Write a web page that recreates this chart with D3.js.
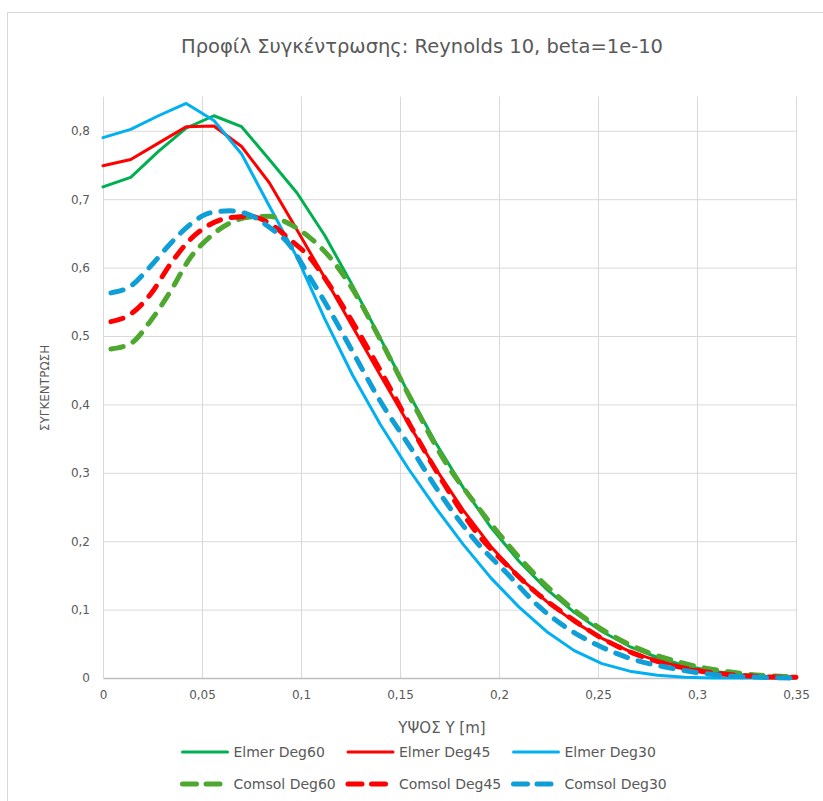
<!DOCTYPE html>
<html><head><meta charset="utf-8">
<script src="https://cdn.jsdelivr.net/npm/d3@7"></script>
<style>
html,body{margin:0;padding:0;background:#fff;}
svg{display:block;}
text{font-family:"DejaVu Sans",sans-serif;fill:#595959;}
</style></head><body><svg id="chart" width="823" height="801"></svg>
<script>
// Concentration profiles across the channel height, Re = 10, beta = 1e-10

// Elmer solutions (mesh nodes along y)
const elmerY = [0, 0.014, 0.028, 0.042, 0.056, 0.070, 0.084, 0.098, 0.112, 0.126, 0.140, 0.154, 0.168,
                0.182, 0.196, 0.210, 0.224, 0.238, 0.252, 0.266, 0.280, 0.294, 0.308, 0.322, 0.336, 0.350];
const elmerDeg60 = [0.718, 0.732, 0.770, 0.804, 0.822, 0.806, 0.758, 0.709, 0.647, 0.574, 0.497, 0.418, 0.344,
                    0.278, 0.220, 0.171, 0.130, 0.096, 0.068, 0.046, 0.030, 0.018, 0.010, 0.005, 0.002, 0.001];
const elmerDeg45 = [0.749, 0.758, 0.782, 0.806, 0.807, 0.777, 0.724, 0.655, 0.585, 0.514, 0.443, 0.373, 0.306,
                    0.245, 0.192, 0.148, 0.112, 0.082, 0.058, 0.039, 0.025, 0.015, 0.008, 0.004, 0.002, 0.001];
const elmerDeg30 = [0.790, 0.802, 0.822, 0.840, 0.815, 0.766, 0.690, 0.615, 0.525, 0.443, 0.371, 0.307, 0.249,
                    0.195, 0.146, 0.104, 0.068, 0.040, 0.021, 0.010, 0.004, 0.001, 0, 0, 0, 0];

// COMSOL solutions (cut line samples)
const comsolY = [0.004, 0.014, 0.024, 0.034, 0.044, 0.054, 0.064, 0.074, 0.084, 0.094, 0.104, 0.114, 0.124,
                 0.140, 0.156, 0.172, 0.188, 0.204, 0.220, 0.236, 0.252, 0.268, 0.284, 0.300, 0.316, 0.332, 0.350];
const comsolDeg60 = [0.481, 0.489, 0.522, 0.565, 0.614, 0.645, 0.665, 0.674, 0.675, 0.664, 0.645, 0.617, 0.578,
                     0.495, 0.405, 0.320, 0.255, 0.197, 0.146, 0.104, 0.071, 0.046, 0.029, 0.017, 0.009, 0.004, 0.002];
const comsolDeg45 = [0.521, 0.532, 0.561, 0.605, 0.641, 0.663, 0.673, 0.675, 0.665, 0.642, 0.616, 0.576, 0.530,
                     0.450, 0.365, 0.285, 0.215, 0.165, 0.122, 0.088, 0.058, 0.036, 0.021, 0.011, 0.005, 0.002, 0.001];
const comsolDeg30 = [0.563, 0.573, 0.602, 0.635, 0.663, 0.680, 0.683, 0.677, 0.659, 0.634, 0.588, 0.540, 0.488,
                     0.405, 0.334, 0.262, 0.201, 0.153, 0.105, 0.070, 0.045, 0.027, 0.016, 0.008, 0.003, 0.001, 0];

const xTicks = [0, 0.05, 0.1, 0.15, 0.2, 0.25, 0.3, 0.35];
const xTickLabels = ["0", "0,05", "0,1", "0,15", "0,2", "0,25", "0,3", "0,35"];
const yTicks = [0, 0.1, 0.2, 0.3, 0.4, 0.5, 0.6, 0.7, 0.8];
const yTickLabels = ["0", "0,1", "0,2", "0,3", "0,4", "0,5", "0,6", "0,7", "0,8"];

const titleText = "Προφίλ Συγκέντρωσης: Reynolds 10, beta=1e-10";
const xTitle = "ΥΨΟΣ Υ [m]";
const yTitle = "ΣΥΓΚΕΝΤΡΩΣΗ";

const series = [
  { name: "Elmer Deg60",  xs: elmerY,  ys: elmerDeg60,  color: "#00B050", dashed: false },
  { name: "Elmer Deg45",  xs: elmerY,  ys: elmerDeg45,  color: "#FF0000", dashed: false },
  { name: "Elmer Deg30",  xs: elmerY,  ys: elmerDeg30,  color: "#00B0F0", dashed: false },
  { name: "Comsol Deg60", xs: comsolY, ys: comsolDeg60, color: "#4EA72E", dashed: true },
  { name: "Comsol Deg45", xs: comsolY, ys: comsolDeg45, color: "#FF0000", dashed: true },
  { name: "Comsol Deg30", xs: comsolY, ys: comsolDeg30, color: "#0F9ED5", dashed: true }
];

const svg = d3.select("#chart");

// chart area frame
svg.append("rect").attr("x", 7.5).attr("y", 12.5).attr("width", 900).attr("height", 900)
  .attr("fill", "#fff").attr("stroke", "#D9D9D9").attr("stroke-width", 1);

const plot = { left: 103, right: 796, top: 96.6, bottom: 678 };
const x = d3.scaleLinear().domain([0, 0.35]).range([plot.left, plot.right]);
const y = d3.scaleLinear().domain([0, 0.85]).range([plot.bottom, plot.top]);

// gridlines
svg.append("g").attr("transform", `translate(0,${plot.bottom})`)
  .call(d3.axisBottom(x).tickValues(xTicks).tickSize(-(plot.bottom - plot.top)).tickFormat(""))
  .call(g => g.select(".domain").remove())
  .call(g => g.selectAll("line").attr("stroke", "#D9D9D9").attr("stroke-width", 1));
svg.append("g").attr("transform", `translate(${plot.left},0)`)
  .call(d3.axisLeft(y).tickValues(yTicks.filter(v => v > 0)).tickSize(-(plot.right - plot.left)).tickFormat(""))
  .call(g => g.select(".domain").remove())
  .call(g => g.selectAll("line").attr("stroke", "#D9D9D9").attr("stroke-width", 1));

// x axis line and labels
svg.append("g").attr("transform", `translate(0,${plot.bottom})`)
  .call(d3.axisBottom(x).tickValues(xTicks).tickSize(0).tickPadding(12)
        .tickFormat((d, i) => xTickLabels[i]))
  .call(g => g.select(".domain").attr("stroke", "#BFBFBF").attr("stroke-width", 1.3))
  .call(g => g.selectAll("text").style("font-size", "12px").attr("fill", "#595959").style("font-family", "DejaVu Sans"));

// y axis labels
svg.append("g").attr("transform", `translate(${plot.left},0)`)
  .call(d3.axisLeft(y).tickValues(yTicks).tickSize(0).tickPadding(13)
        .tickFormat((d, i) => yTickLabels[i]))
  .call(g => g.select(".domain").remove())
  .call(g => g.selectAll("text").style("font-size", "12px").attr("fill", "#595959").style("font-family", "DejaVu Sans"));

// series: Elmer as straight segments between nodes, COMSOL samples drawn smooth
const straight = d3.line().x(d => x(d[0])).y(d => y(d[1]));
const smooth = d3.line().curve(d3.curveMonotoneX).x(d => x(d[0])).y(d => y(d[1]));
series.forEach(s => {
  const pts = s.xs.map((v, i) => [v, s.ys[i]]);
  const p = svg.append("path").datum(pts)
    .attr("d", s.dashed ? smooth : straight)
    .attr("fill", "none")
    .attr("stroke", s.color)
    .attr("stroke-linejoin", "round")
    .attr("stroke-linecap", "round");
  if (s.dashed) p.attr("stroke-width", 5).attr("stroke-dasharray", "12.5,11");
  else p.attr("stroke-width", 3);
});

// titles
svg.append("text").attr("x", 422).attr("y", 53).attr("text-anchor", "middle")
  .style("font-size", "19.5px").text(titleText);
svg.append("text").attr("x", 442).attr("y", 733).attr("text-anchor", "middle")
  .style("font-size", "15px").text(xTitle);
svg.append("text").attr("transform", "translate(49,388) rotate(-90)").attr("text-anchor", "middle")
  .style("font-size", "12px").text(yTitle);

// legend: three columns, two rows
const colX = [180.5, 346, 511.5];
series.forEach((s, i) => {
  const row = Math.floor(i / 3), col = i % 3;
  const cy = row === 0 ? 752 : 784;
  const g = svg.append("g").attr("transform", `translate(${colX[col]},${cy})`);
  const ln = g.append("line").attr("x1", 2).attr("x2", 47).attr("y1", 0).attr("y2", 0)
    .attr("stroke", s.color).attr("stroke-linecap", "round");
  if (s.dashed) ln.attr("stroke-width", 5).attr("stroke-dasharray", "14,9.5");
  else ln.attr("stroke-width", 3);
  g.append("text").attr("x", 53).attr("y", 5).style("font-size", "14px").text(s.name);
});
</script></body></html>
